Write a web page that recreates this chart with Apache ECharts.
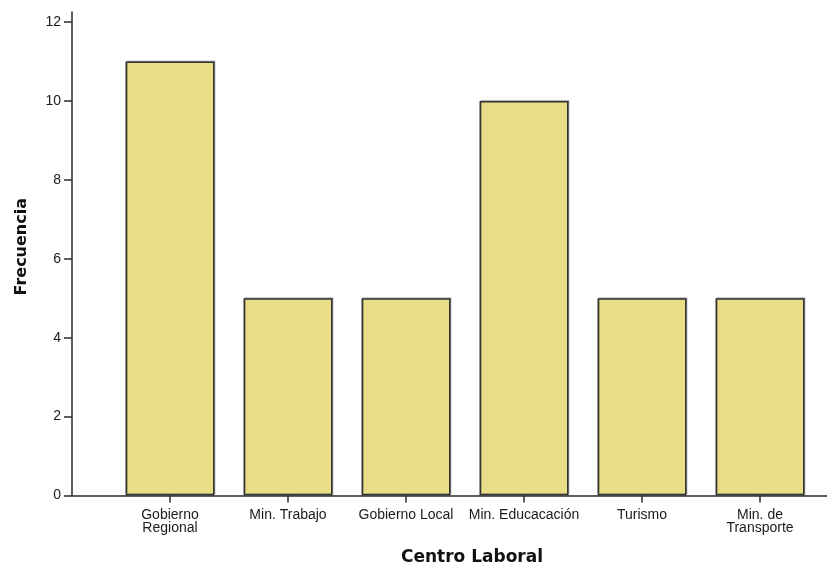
<!DOCTYPE html>
<html>
<head>
<meta charset="utf-8">
<script src="https://cdn.jsdelivr.net/npm/echarts@6/dist/echarts.min.js"></script>
<style>html,body{margin:0;padding:0;background:#fff;}#c{width:827px;height:564px;}</style>
</head>
<body>
<div id="c"></div>
<script>
var categories = ['Gobierno\nRegional', 'Min. Trabajo', 'Gobierno Local', 'Min. Educacación', 'Turismo', 'Min. de\nTransporte'];
var frecuencia = [11, 5, 5, 10, 5, 5];
var yMin = 0, yMax = 12, yStep = 2;

var chart = echarts.init(document.getElementById('c'));
var lineCol = '#2a2a2a';
var labelFont = { color: '#1a1a1a', fontFamily: 'Liberation Sans', fontSize: 14 };
chart.setOption({
  animation: false,
  backgroundColor: '#ffffff',
  grid: [
    { left: 111, right: 8, top: 22, bottom: 68.5, containLabel: false, outerBoundsMode: 'none' },
    { left: 72, right: 0, top: 12, bottom: 68.5, containLabel: false, outerBoundsMode: 'none' }
  ],
  xAxis: [
    {
      type: 'category', gridIndex: 0, data: categories,
      name: 'Centro Laboral', nameLocation: 'middle', nameGap: 54,
      nameTextStyle: { fontFamily: 'DejaVu Sans', fontWeight: 'bold', fontSize: 17, color: '#111', padding: [0, 0, 0, 14] },
      axisLine: { show: false },
      axisTick: { show: true, alignWithLabel: true, length: 7, lineStyle: { color: lineCol, width: 1.5 } },
      axisLabel: Object.assign({ margin: 13, lineHeight: 13, interval: 0 }, labelFont),
      splitLine: { show: false }
    },
    {
      type: 'value', gridIndex: 1, min: 0, max: 1,
      axisLine: { show: true, onZero: false, lineStyle: { color: lineCol, width: 1.5 } },
      axisTick: { show: false }, axisLabel: { show: false }, splitLine: { show: false }
    }
  ],
  yAxis: [
    {
      type: 'value', gridIndex: 0, min: yMin, max: yMax, interval: yStep, offset: 39,
      name: 'Frecuencia', nameLocation: 'middle', nameGap: 42,
      nameTextStyle: { fontFamily: 'DejaVu Sans', fontWeight: 'bold', fontSize: 16, color: '#111', padding: [0, 0, 0, 24] },
      axisLine: { show: false },
      axisTick: { show: true, length: 8, lineStyle: { color: lineCol, width: 1.5 } },
      axisLabel: Object.assign({ margin: 11 }, labelFont),
      splitLine: { show: false }
    },
    {
      type: 'value', gridIndex: 1, min: 0, max: 1,
      axisLine: { show: true, onZero: false, lineStyle: { color: lineCol, width: 1.5 } },
      axisTick: { show: false }, axisLabel: { show: false }, splitLine: { show: false }
    }
  ],
  series: [{
    type: 'bar', xAxisIndex: 0, yAxisIndex: 0,
    data: frecuencia, barWidth: 89,
    itemStyle: {
      color: '#E7DE87', borderColor: '#333333', borderWidth: 1.5,
      shadowColor: 'rgba(0,0,0,0.25)', shadowBlur: 0, shadowOffsetX: 1, shadowOffsetY: -1
    }
  }]
});
</script>
</body>
</html>
